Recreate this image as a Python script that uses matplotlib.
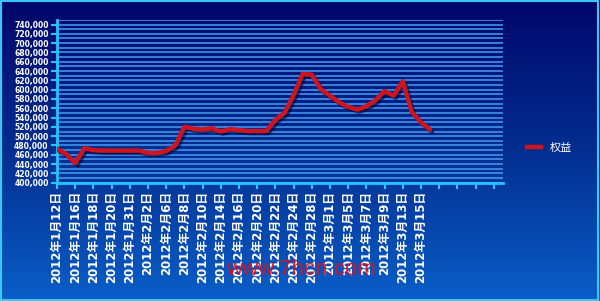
import numpy as np
import matplotlib.pyplot as plt
import matplotlib.patheffects as pe
import matplotlib.transforms as mtransforms
from matplotlib.colors import LinearSegmentedColormap
from matplotlib.patches import Rectangle
from matplotlib.lines import Line2D

# tick labels (every other trading day)
date_labels = ['2012年1月12日', '2012年1月16日', '2012年1月18日', '2012年1月20日',
               '2012年1月31日', '2012年2月2日', '2012年2月6日', '2012年2月8日',
               '2012年2月10日', '2012年2月14日', '2012年2月16日', '2012年2月20日',
               '2012年2月22日', '2012年2月24日', '2012年2月28日', '2012年3月1日',
               '2012年3月5日', '2012年3月7日', '2012年3月9日', '2012年3月13日',
               '2012年3月15日']

# daily equity values
equity = [473000, 462000, 442000, 474000, 470000, 469000, 469000, 469000,
          469000, 469000, 464000, 464000, 468000, 480000, 520000, 516000,
          514000, 517000, 510000, 515000, 513000, 511000, 511000, 511000,
          535000, 550000, 588000, 634000, 632000, 601000, 587000, 573000,
          563000, 557000, 564000, 577000, 597000, 587000, 618000, 552000,
          530000, 514000]
series_name = '权益'

fig = plt.figure(figsize=(6, 3.01), dpi=100)

# gradient background
bg = fig.add_axes([0, 0, 1, 1], zorder=-10)
grad = np.linspace(0, 1, 256).reshape(-1, 1)
cmap = LinearSegmentedColormap.from_list('bg', ['#00066a', '#032e90', '#0a5ec8'])
bg.imshow(grad, aspect='auto', cmap=cmap, extent=[0, 1, 0, 1], origin='upper')
bg.add_patch(Rectangle((0.002, 0.004), 0.995, 0.992, fill=False,
                       ec='#38c8f5', lw=1.5))
bg.set_xlim(0, 1)
bg.set_ylim(0, 1)
bg.axis('off')

ax = fig.add_axes([0.095, 0.393, 0.743, 0.541])
ax.patch.set_alpha(0)

x = np.arange(len(equity))
ax.plot(x, equity, color='#d0141e', lw=3.2, solid_capstyle='round',
        solid_joinstyle='round', zorder=5,
        path_effects=[pe.SimpleLineShadow(offset=(1.5, -1.5),
                                          shadow_color='#000030', alpha=0.6),
                      pe.Normal()])

ax.set_xlim(0, 49)
ax.set_ylim(400000, 750000)

ax.set_yticks(range(400000, 740001, 20000))
ax.set_yticklabels([f'{v:,}' for v in range(400000, 740001, 20000)])
ax.set_yticks(range(400000, 750001, 10000), minor=True)
ax.yaxis.grid(True, which='both', color='#3f8ee8', lw=1.25, zorder=1)
ax.set_axisbelow(True)

xt = np.arange(0, 49, 2)
ax.set_xticks(xt)
ax.set_xticklabels(date_labels + [''] * (len(xt) - len(date_labels)),
                   rotation=90, ha='center', va='top', color='white',
                   fontsize=8.5, fontweight='bold',
                   family=['DejaVu Sans', 'Noto Sans CJK SC'])
shift = mtransforms.ScaledTranslation(-4 / 100, 0, fig.dpi_scale_trans)
for lab in ax.get_xticklabels():
    lab.set_transform(lab.get_transform() + shift)

for lab in ax.get_yticklabels():
    lab.set_color('white')
    lab.set_fontsize(5.5)
    lab.set_fontweight('bold')

ax.tick_params(which='major', color='#25c5ff', length=4, width=1.5, pad=2)
ax.tick_params(which='minor', length=0)
for s in ['top', 'right']:
    ax.spines[s].set_visible(False)
for s in ['left', 'bottom']:
    ax.spines[s].set_color('#25c5ff')
    ax.spines[s].set_linewidth(2)

handle = Line2D([], [], color='#d0141e', lw=3.2)
fig.legend([handle], [series_name], loc='center left',
           bbox_to_anchor=(0.862, 0.508), frameon=False, handlelength=1.2,
           labelcolor='white', prop={'family': 'Noto Sans CJK SC', 'size': 8})

fig.text(0.502, 0.103, 'www.7hcn.com', color='#e0101a', fontsize=16,
         ha='center', va='center', family='Liberation Sans', alpha=0.9)

fig.savefig('out.png', dpi=100)
